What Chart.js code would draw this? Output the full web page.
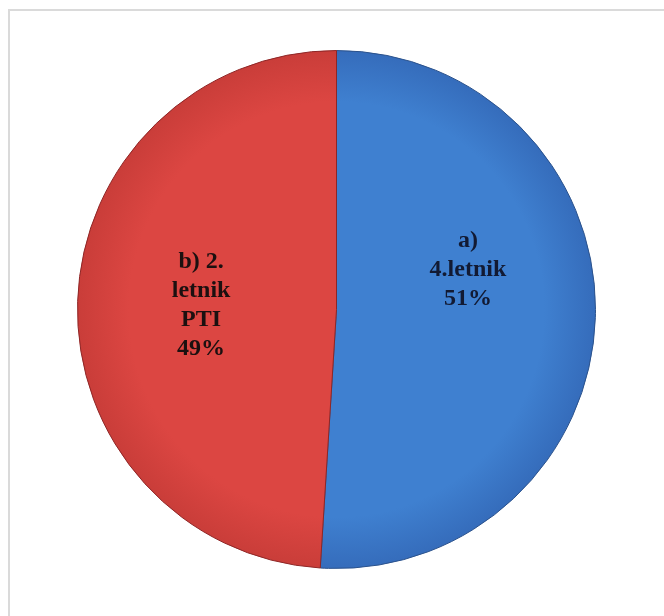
<!DOCTYPE html>
<html>
<head>
<meta charset="utf-8">
<script src="https://cdn.jsdelivr.net/npm/chart.js@4/dist/chart.umd.min.js"></script>
<style>
  html, body { margin: 0; padding: 0; background: #fff; }
  #wrap { position: relative; width: 664px; height: 616px; }
  #frame {
    position: absolute; left: 8px; top: 9px; right: 0; bottom: 0;
    border-left: 2px solid #dadada; border-top: 2px solid #dadada;
  }
  canvas { position: absolute; left: 0; top: 0; }
</style>
</head>
<body>
<div id="wrap">
  <div id="frame"></div>
  <canvas id="pie" width="664" height="616"></canvas>
</div>
<script>
// data
const categories = [['a)', '4.letnik'], ['b) 2.', 'letnik', 'PTI']];
const shares = [51, 49];

const fillInner = ['#3f80d0', '#dc4642'];
const fillOuter = ['#356cbb', '#c93d39'];
const edgeColors = ['#2b528c', '#8e2626'];
const textColors = ['#121a33', '#1c1010'];

// little nudges so the labels sit where the original ones do
const labelNudge = [{ dx: 2, dy: -44 }, { dx: -6, dy: 0 }];

function radialFill(ctx) {
  const chart = ctx.chart;
  const area = chart.chartArea;
  if (!area) return fillInner[ctx.dataIndex];
  const cx = (area.left + area.right) / 2;
  const cy = (area.top + area.bottom) / 2;
  const r = Math.min(area.width, area.height) / 2;
  const g = chart.ctx.createRadialGradient(cx, cy, 0, cx, cy, r);
  g.addColorStop(0, fillInner[ctx.dataIndex]);
  g.addColorStop(0.8, fillInner[ctx.dataIndex]);
  g.addColorStop(1, fillOuter[ctx.dataIndex]);
  return g;
}

const sliceLabels = {
  id: 'sliceLabels',
  afterDatasetsDraw(chart) {
    const ctx = chart.ctx;
    const meta = chart.getDatasetMeta(0);
    const total = shares.reduce((a, b) => a + b, 0);
    ctx.save();
    ctx.font = 'bold 24px "Liberation Serif", "Times New Roman", serif';
    ctx.textAlign = 'center';
    ctx.textBaseline = 'middle';
    meta.data.forEach((arc, i) => {
      const pos = arc.tooltipPosition();
      const lines = categories[i].concat([Math.round(shares[i] / total * 100) + '%']);
      const lh = 29;
      const x = pos.x + labelNudge[i].dx;
      const y0 = pos.y + labelNudge[i].dy - (lines.length - 1) * lh / 2;
      ctx.fillStyle = textColors[i];
      lines.forEach((t, k) => ctx.fillText(t, x, y0 + k * lh));
    });
    ctx.restore();
  }
};

new Chart(document.getElementById('pie'), {
  type: 'pie',
  data: {
    labels: categories,
    datasets: [{
      data: shares,
      backgroundColor: radialFill,
      borderColor: edgeColors,
      borderWidth: 1
    }]
  },
  options: {
    responsive: false,
    animation: false,
    layout: { padding: { left: 77, right: 68, top: 50, bottom: 47 } },
    plugins: {
      legend: { display: false },
      tooltip: { enabled: false }
    }
  },
  plugins: [sliceLabels]
});
</script>
</body>
</html>
